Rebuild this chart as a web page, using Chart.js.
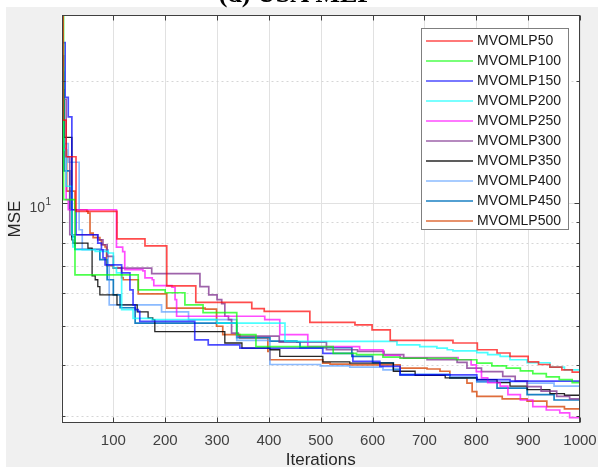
<!DOCTYPE html>
<html lang="en">
<head>
<meta charset="UTF-8">
<title>(d) USA MLP</title>
<script src="https://cdn.jsdelivr.net/npm/chart.js@4.4.1/dist/chart.umd.min.js"></script>
<style>
  html, body { margin: 0; padding: 0; background: #fff; }
  #wrap { width: 598px; height: 471px; }
</style>
</head>
<body>
<div id="wrap"><canvas id="mseChart" width="598" height="471"></canvas></div>
<script>
// iterations where the best MSE changes, and the new value from there on
const it50  = [1,3,9,28,107,161,203,259,367,391,479,566,599,634,755,802,840,865,900,920,942,965,985,1000];
const mse50 = [28.7,16.0,13.0,9.54,8.17,7.85,6.26,5.70,5.50,5.42,5.09,5.02,4.88,4.60,4.53,4.36,4.28,4.20,4.07,4.01,3.95,3.89,3.84,3.81];

const it100  = [1,4,26,148,200,238,273,338,375,524,569,620,653,762,801,830,858,885,909,935,960,985,1000];
const mse100 = [29.0,10.2,6.66,6.12,6.02,5.62,5.38,4.75,4.44,4.27,4.24,4.18,4.16,4.12,4.04,3.98,3.93,3.87,3.81,3.74,3.68,3.62,3.59];

const it150  = [1,7,13,20,28,70,77,80,84,116,132,138,142,148,151,257,283,344,504,562,614,653,801,865,1000];
const mse150 = [24.8,18.2,16.3,9.63,8.36,7.97,7.68,7.33,7.05,6.74,6.12,5.62,5.47,5.42,5.12,4.61,4.48,4.40,4.27,4.08,3.97,3.78,3.68,3.65,3.58];

const it200  = [1,4,9,20,22,26,65,90,100,106,116,138,174,300,431,647,691,724,744,755,801,822,846,865,898,942,970,1000];
const mse200 = [21.5,13.5,11.0,8.36,7.80,7.68,7.61,7.54,6.93,6.74,5.47,5.21,5.17,5.07,4.57,4.48,4.44,4.40,4.36,4.33,4.29,4.24,4.20,4.12,4.05,3.95,3.89,3.83];

const it250  = [1,3,9,13,106,118,122,157,161,175,178,213,219,222,392,421,475,575,620,653,765,790,800,810,822,846,861,885,909,935,961,980,1000];
const mse250 = [16.0,13.6,10.2,9.63,7.79,7.60,6.86,6.81,6.55,6.48,6.27,6.21,5.79,5.27,5.17,4.75,4.44,4.36,4.22,4.17,4.12,4.00,3.85,3.72,3.62,3.55,3.38,3.28,3.16,3.10,3.05,2.97,2.88];

const it300  = [1,4,9,16,70,80,88,100,174,267,284,300,309,315,322,328,341,420,511,571,622,660,705,763,782,810,851,875,898,925,955,980,1000];
const mse300 = [23.0,18.0,13.0,8.36,8.12,7.90,7.40,6.92,6.71,6.23,5.95,5.79,5.66,5.27,5.17,4.79,4.71,4.55,4.36,4.32,4.24,4.16,4.12,4.06,3.93,3.85,3.75,3.65,3.54,3.45,3.35,3.30,3.26];

const it350  = [1,5,20,22,51,59,65,70,74,107,146,167,176,180,315,348,402,421,504,556,640,682,740,801,840,865,898,942,970,1000];
const mse350 = [19.0,14.5,8.12,7.97,7.75,6.62,6.48,6.23,5.95,5.62,5.40,5.22,5.17,4.83,4.53,4.40,4.36,4.20,4.07,4.04,3.86,3.77,3.72,3.68,3.62,3.55,3.48,3.40,3.37,3.34];

const it400  = [1,5,13,34,40,90,92,193,245,338,402,499,556,620,653,749,801,898,950,1000];
const mse400 = [21.0,14.0,12.6,8.6,7.68,7.05,5.62,5.40,5.17,4.60,4.01,3.98,3.95,3.89,3.80,3.74,3.64,3.61,3.55,3.48];

const it450  = [1,5,16,20,26,74,88,100,113,142,338,402,454,460,560,600,640,653,749,801,840,898,950,1000];
const mse450 = [20.0,12.0,9.63,8.27,7.70,7.26,6.48,5.95,5.53,5.07,4.67,4.58,4.55,4.41,4.20,4.05,3.90,3.78,3.72,3.64,3.51,3.38,3.28,3.18];

const it500  = [1,3,10,26,49,51,55,61,74,77,84,87,100,116,119,148,203,277,299,311,344,398,402,504,518,556,653,705,730,749,782,792,801,850,898,936,970,1000];
const mse500 = [18.7,13.5,10.7,9.63,9.55,9.45,8.44,8.22,8.12,7.90,7.80,7.02,6.93,6.56,6.48,5.98,5.52,5.49,4.98,4.75,4.66,4.32,4.12,4.04,4.02,4.00,3.93,3.91,3.86,3.72,3.61,3.44,3.35,3.30,3.26,3.16,3.12,3.09];

const seriesNames = ['MVOMLP50','MVOMLP100','MVOMLP150','MVOMLP200','MVOMLP250',
                     'MVOMLP300','MVOMLP350','MVOMLP400','MVOMLP450','MVOMLP500'];
const seriesIts = [it50,it100,it150,it200,it250,it300,it350,it400,it450,it500];
const seriesMse = [mse50,mse100,mse150,mse200,mse250,mse300,mse350,mse400,mse450,mse500];

const xTicks = [100,200,300,400,500,600,700,800,900,1000];
const yMajor = [10];
const yMinor = [3,4,5,6,7,8,9,20];
const xRange = [0, 1000];
const yRange = [2.88, 29];

const lineColors = [
  'rgba(255,0,0,0.7)', 'rgba(0,255,0,0.7)', 'rgba(0,0,255,0.7)', 'rgba(0,255,255,0.7)',
  'rgba(255,0,255,0.7)', 'rgba(126,47,142,0.75)', 'rgba(0,0,0,0.85)', 'rgba(77,150,255,0.65)',
  'rgba(0,114,189,0.9)', 'rgba(217,83,25,0.85)'
];

const FONT = '"Liberation Sans", Arial, sans-serif';

function hline(ctx, x1, y1, x2, y2) {
  ctx.beginPath(); ctx.moveTo(x1, y1); ctx.lineTo(x2, y2); ctx.stroke();
}

// figure background, cut-off title, grid
const framePlugin = {
  id: 'frame',
  beforeDraw(chart) {
    const { ctx, chartArea: a, scales: { x, y } } = chart;
    ctx.save();
    ctx.fillStyle = '#ffffff';
    ctx.fillRect(0, 0, chart.width, chart.height);
    ctx.fillStyle = '#f0f0f0';
    ctx.fillRect(6, 7, chart.width - 6, 460);
    ctx.fillStyle = '#ffffff';
    ctx.fillRect(a.left, a.top, a.right - a.left, a.bottom - a.top);

    ctx.fillStyle = '#000';
    ctx.font = 'bold 26px "Liberation Serif", "Times New Roman", serif';
    ctx.textAlign = 'center';
    ctx.textBaseline = 'alphabetic';
    ctx.fillText('(d) USA MLP', 296, 2);

    ctx.lineWidth = 1;
    ctx.strokeStyle = '#e1e1e1';
    xTicks.forEach(v => {
      const px = Math.round(x.getPixelForValue(v)) + 0.5;
      hline(ctx, px, a.top, px, a.bottom);
    });
    yMajor.forEach(v => {
      const py = Math.round(y.getPixelForValue(v)) + 0.5;
      hline(ctx, a.left, py, a.right, py);
    });
    ctx.setLineDash([2, 3]);
    ctx.strokeStyle = '#d6d6d6';
    yMinor.forEach(v => {
      const py = Math.round(y.getPixelForValue(v)) + 0.5;
      hline(ctx, a.left, py, a.right, py);
    });
    ctx.restore();
  },
  afterDatasetsDraw(chart) {
    const { ctx, chartArea: a, scales: { x, y } } = chart;
    ctx.save();
    ctx.strokeStyle = '#404040';
    ctx.lineWidth = 1;
    const L = Math.round(a.left) + 0.5, R = Math.round(a.right) - 0.5;
    const T = Math.round(a.top) + 0.5, B = Math.round(a.bottom) - 0.5;
    ctx.strokeRect(L, T, R - L, B - T);

    // inward ticks
    xTicks.forEach(v => {
      const px = Math.round(x.getPixelForValue(v)) + 0.5;
      hline(ctx, px, B, px, B - 5);
      hline(ctx, px, T, px, T + 5);
    });
    yMajor.forEach(v => {
      const py = Math.round(y.getPixelForValue(v)) + 0.5;
      hline(ctx, L, py, L + 5, py);
      hline(ctx, R, py, R - 5, py);
    });
    yMinor.forEach(v => {
      const py = Math.round(y.getPixelForValue(v)) + 0.5;
      hline(ctx, L, py, L + 3, py);
      hline(ctx, R, py, R - 3, py);
    });

    // 10^1 tick label
    const p10 = y.getPixelForValue(10);
    ctx.fillStyle = '#404040';
    ctx.textAlign = 'right';
    ctx.textBaseline = 'alphabetic';
    ctx.font = '14px ' + FONT;
    ctx.fillText('10', 45, p10 + 8.5);
    ctx.textAlign = 'left';
    ctx.font = '10px ' + FONT;
    ctx.fillText('1', 45.5, p10 + 1.5);

    // legend box
    const lx = 421.5, ly = 28.5, lw = 147, lh = 201;
    ctx.fillStyle = '#ffffff';
    ctx.fillRect(lx, ly, lw, lh);
    ctx.strokeStyle = '#7f7f7f';
    ctx.strokeRect(lx, ly, lw, lh);
    ctx.font = '14px ' + FONT;
    ctx.textBaseline = 'middle';
    chart.data.datasets.forEach((ds, i) => {
      const yy = 41 + i * 20;
      ctx.strokeStyle = ds.borderColor;
      ctx.lineWidth = ds.borderWidth;
      hline(ctx, 426, yy, 473, yy);
      ctx.fillStyle = '#1a1a1a';
      ctx.fillText(ds.label, 477, yy + 0.5);
    });
    ctx.restore();
  }
};

const datasets = seriesNames.map((name, i) => ({
  label: name,
  data: seriesIts[i].map((it, k) => ({ x: it, y: seriesMse[i][k] })),
  borderColor: lineColors[i],
  borderWidth: i === 6 ? 1.3 : 1.7,
  stepped: 'before',
  pointRadius: 0,
  fill: false
}));

new Chart(document.getElementById('mseChart'), {
  type: 'line',
  data: { datasets },
  options: {
    responsive: false,
    animation: false,
    devicePixelRatio: 1,
    layout: { padding: { left: 0, right: 18, top: 15, bottom: 0 } },
    plugins: { legend: { display: false }, tooltip: { enabled: false } },
    scales: {
      x: {
        type: 'linear',
        min: xRange[0],
        max: xRange[1],
        afterFit(s) { s.height = 48; s.paddingLeft = 0; s.paddingRight = 0; },
        afterBuildTicks(s) { s.ticks = xTicks.map(v => ({ value: v })); },
        grid: { display: false, drawTicks: false },
        border: { display: false },
        ticks: {
          color: '#404040',
          font: { family: FONT, size: 15 },
          padding: 9,
          maxRotation: 0,
          autoSkip: false,
          callback: v => String(v)
        },
        title: {
          display: true,
          text: 'Iterations',
          color: '#262626',
          font: { family: FONT, size: 17 },
          padding: 0
        }
      },
      y: {
        type: 'logarithmic',
        min: yRange[0],
        max: yRange[1],
        afterFit(s) { s.width = 61.5; s.paddingTop = 0; s.paddingBottom = 0; },
        afterBuildTicks(s) { s.ticks = yMinor.concat(yMajor).map(v => ({ value: v })); },
        grid: { display: false, drawTicks: false },
        border: { display: false },
        ticks: { callback: () => '' },
        title: {
          display: true,
          text: 'MSE',
          color: '#262626',
          font: { family: FONT, size: 17 },
          padding: { top: 5, bottom: 0 }
        }
      }
    }
  },
  plugins: [framePlugin]
});
</script>
</body>
</html>
